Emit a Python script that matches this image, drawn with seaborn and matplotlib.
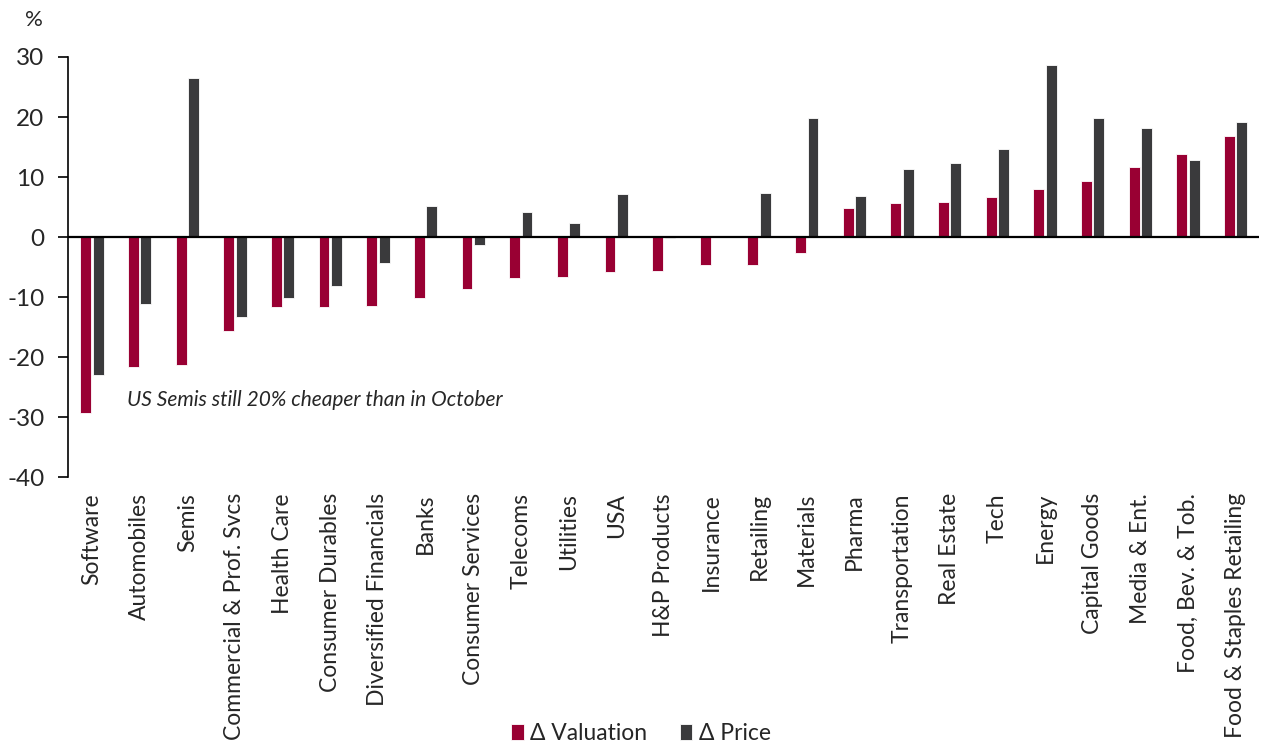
import pandas as pd
import matplotlib.pyplot as plt
import seaborn as sns

# sectors, sorted as in the chart
sectors = ["Software", "Automobiles", "Semis", "Commercial & Prof. Svcs", "Health Care",
           "Consumer Durables", "Diversified Financials", "Banks", "Consumer Services",
           "Telecoms", "Utilities", "USA", "H&P Products", "Insurance", "Retailing",
           "Materials", "Pharma", "Transportation", "Real Estate", "Tech", "Energy",
           "Capital Goods", "Media & Ent.", "Food, Bev. & Tob.", "Food & Staples Retailing"]
valuation = [-29.4, -21.7, -21.4, -15.6, -11.7, -11.7, -11.5, -10.1, -8.6, -6.8, -6.6, -5.8,
             -5.7, -4.7, -4.7, -2.6, 4.8, 5.6, 5.8, 6.6, 8.0, 9.3, 11.6, 13.9, 16.9]
price = [-23.0, -11.2, 26.5, -13.4, -10.1, -8.2, -4.4, 5.1, -1.4, 4.1, 2.4, 7.2,
         -0.2, 0.0, 7.3, 19.8, 6.8, 11.3, 12.3, 14.6, 28.6, 19.8, 18.1, 12.8, 19.1]
series = ["\u0394 Valuation", "\u0394 Price"]
colors = ["#990033", "#3a3a3c"]
yticks = [-40, -30, -20, -10, 0, 10, 20, 30]

df = pd.DataFrame({"sector": sectors * 2,
                   "series": [series[0]] * len(sectors) + [series[1]] * len(sectors),
                   "value": valuation + price})

sns.set_style("white")
plt.rcParams["font.family"] = ["Lato", "DejaVu Sans"]

fig = plt.figure(figsize=(12.62, 7.47), dpi=100)
ax = fig.add_axes([0.054, 0.3614, 0.944, 0.5623])

sns.barplot(data=df, x="sector", y="value", hue="series", palette=colors, saturation=1,
            width=0.52, gap=0.12, edgecolor="white", linewidth=0.6, ax=ax)

ax.axhline(0, color="black", lw=1.6, zorder=5)
ax.set_ylim(-40, 30)
ax.set_xlim(-0.5, len(sectors) - 0.5)
ax.set_yticks(yticks)
ax.set_yticklabels([str(t) for t in yticks])  # plain hyphen minus like the original
ax.tick_params(axis="y", labelsize=17.5, left=True, length=7, width=1.2, color="black", pad=10)
ax.tick_params(axis="x", labelsize=16.5, bottom=False, pad=8)
plt.setp(ax.get_xticklabels(), rotation=90)
ax.set_xlabel("")
ax.set_ylabel("")
for s in ["top", "right", "bottom"]:
    ax.spines[s].set_visible(False)
ax.spines["left"].set_color("black")
ax.spines["left"].set_linewidth(1.2)

fig.text(0.02, 0.973, "%", fontsize=16, va="center")
ax.text(0.73, -27.2, "US Semis still 20% cheaper than in October", fontsize=15,
        style="italic", va="center")

handles, labels = ax.get_legend_handles_labels()
ax.legend_.remove()
fig.legend(handles, labels, loc="lower center", bbox_to_anchor=(0.508, -0.024), ncol=2,
           frameon=False, fontsize=16.5, handlelength=0.55, handleheight=0.7,
           handletextpad=0.3, columnspacing=1.4)

fig.savefig("out.png", dpi=100)
